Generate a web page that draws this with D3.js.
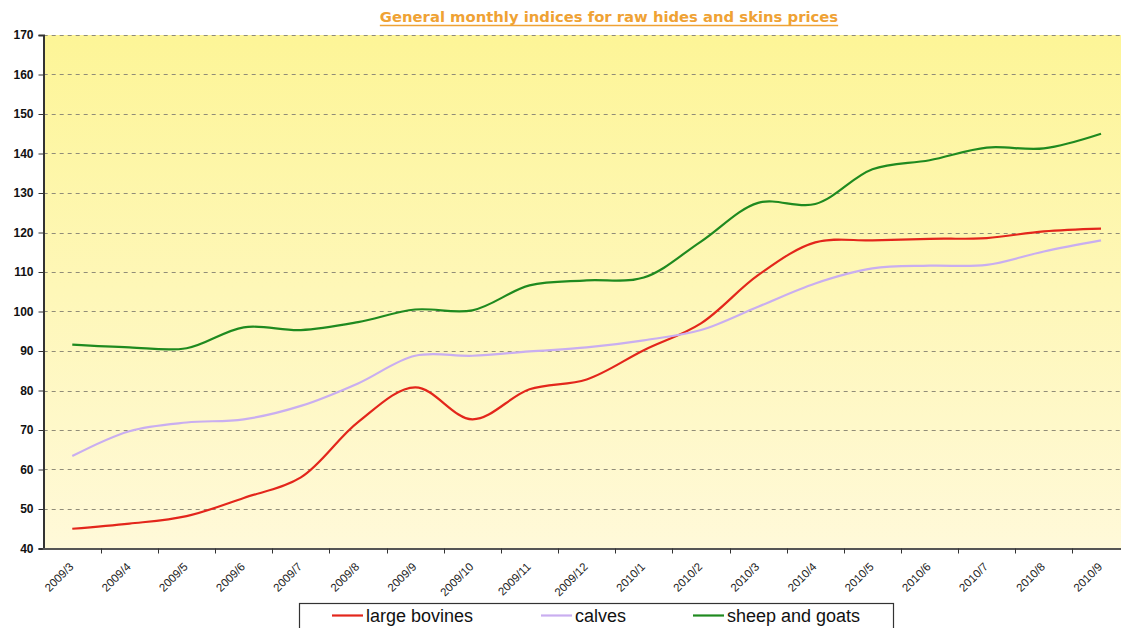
<!DOCTYPE html>
<html>
<head>
<meta charset="utf-8">
<script src="https://cdn.jsdelivr.net/npm/d3@7"></script>
<style>
  html, body { margin: 0; padding: 0; background: #ffffff; }
  svg { display: block; }
</style>
</head>
<body>
<svg id="chart" width="1121" height="628"></svg>
<script>
// ---- data ----
const categories = ["2009/3","2009/4","2009/5","2009/6","2009/7","2009/8","2009/9","2009/10","2009/11","2009/12",
                    "2010/1","2010/2","2010/3","2010/4","2010/5","2010/6","2010/7","2010/8","2010/9"];
const largeBovines = [45.0, 46.3, 48.2, 52.8, 58.0, 72.0, 80.8, 72.7, 80.3, 82.8, 90.2, 97.0, 109.2, 117.5, 118.0, 118.4, 118.6, 120.3, 121.0];
const calves       = [63.4, 69.7, 71.9, 72.7, 76.1, 81.8, 88.8, 88.8, 89.9, 90.9, 92.7, 95.3, 101.2, 107.1, 110.9, 111.6, 111.8, 115.2, 118.0];
const sheepGoats   = [91.6, 90.9, 90.7, 96.0, 95.3, 97.3, 100.5, 100.3, 106.6, 107.9, 108.6, 117.7, 127.5, 127.2, 136.0, 138.3, 141.5, 141.3, 145.0];
const yTicks = [40, 50, 60, 70, 80, 90, 100, 110, 120, 130, 140, 150, 160, 170];
const seriesNames = ["large bovines", "calves", "sheep and goats"];
const seriesColors = ["#e3261b", "#c9aef0", "#1f8a1f"];
const titleText = "General monthly indices for raw hides and skins prices";

// ---- layout ----
const svg = d3.select("#chart");
const plot = { left: 43.7, right: 1129.6, top: 35, bottom: 548.5 };

const x = d3.scaleBand().domain(categories).range([plot.left, plot.right]).padding(0);
const y = d3.scaleLinear().domain([40, 170]).range([plot.bottom, plot.top]);

// background gradient
const defs = svg.append("defs");
const grad = defs.append("linearGradient").attr("id", "bg").attr("x1", 0).attr("y1", 0).attr("x2", 0).attr("y2", 1);
grad.append("stop").attr("offset", "0%").attr("stop-color", "#fdf597");
grad.append("stop").attr("offset", "100%").attr("stop-color", "#fff9d9");

svg.append("rect")
  .attr("x", plot.left).attr("y", plot.top)
  .attr("width", plot.right - plot.left).attr("height", plot.bottom - plot.top)
  .attr("fill", "url(#bg)");

// gridlines
svg.append("g").selectAll("line").data(yTicks).join("line")
  .attr("x1", plot.left).attr("x2", plot.right)
  .attr("y1", d => Math.round(y(d)) + 0.5).attr("y2", d => Math.round(y(d)) + 0.5)
  .attr("stroke", "#908c78").attr("stroke-width", 1)
  .attr("stroke-dasharray", "4,4");

// y axis
const yAxis = d3.axisLeft(y).tickValues(yTicks).tickSize(5).tickPadding(5);
const gy = svg.append("g").attr("transform", `translate(${Math.round(plot.left) - 0.5},0)`).call(yAxis);
gy.select(".domain").attr("stroke", "#333").attr("stroke-width", 2);
gy.selectAll(".tick line").attr("stroke", "#333");
gy.selectAll(".tick text")
  .attr("font-family", "Liberation Sans, Arial, sans-serif")
  .attr("font-weight", "bold").attr("font-size", 12).attr("fill", "#111");

// x axis (domain line + boundary ticks)
svg.append("line")
  .attr("x1", plot.left - 1).attr("x2", plot.right)
  .attr("y1", plot.bottom + 0.5).attr("y2", plot.bottom + 0.5)
  .attr("stroke", "#555").attr("stroke-width", 2);
svg.append("g").selectAll("line").data(categories.slice(1)).join("line")
  .attr("x1", d => Math.round(x(d)) + 0.5).attr("x2", d => Math.round(x(d)) + 0.5)
  .attr("y1", plot.bottom).attr("y2", plot.bottom + 5)
  .attr("stroke", "#333");

// x labels via band axis (no tick lines)
const xAxis = d3.axisBottom(x).tickSize(0).tickPadding(0);
const gx = svg.append("g").attr("transform", `translate(0,${plot.bottom})`).call(xAxis);
gx.select(".domain").remove();
gx.selectAll(".tick text")
  .attr("font-family", "Liberation Sans, Arial, sans-serif")
  .attr("font-size", 11.5).attr("fill", "#222")
  .attr("text-anchor", "end")
  .attr("dy", 0).attr("y", 0)
  .attr("transform", "translate(2,19) rotate(-45)");

// lines
const allSeries = [largeBovines, calves, sheepGoats];
const line = d3.line()
  .x((d, i) => x(categories[i]) + x.bandwidth() / 2)
  .y(d => y(d))
  .curve(d3.curveCatmullRom.alpha(0.5));

svg.append("g").selectAll("path").data(allSeries).join("path")
  .attr("d", d => line(d))
  .attr("fill", "none")
  .attr("stroke", (d, i) => seriesColors[i])
  .attr("stroke-width", 2.2)
  .attr("stroke-linejoin", "round");

// title
const title = svg.append("text")
  .attr("x", 609).attr("y", 22)
  .attr("text-anchor", "middle")
  .attr("font-family", "DejaVu Sans, Verdana, sans-serif")
  .attr("font-weight", "bold").attr("font-size", 14.8)
  .attr("fill", "#efa234")
  .text(titleText);
const tw = title.node().getComputedTextLength();
svg.append("line")
  .attr("x1", 609 - tw / 2).attr("x2", 609 + tw / 2)
  .attr("y1", 25.5).attr("y2", 25.5)
  .attr("stroke", "#efa234").attr("stroke-width", 1.4);

// legend
const legend = svg.append("g");
legend.append("rect")
  .attr("x", 299.5).attr("y", 603.5).attr("width", 594).attr("height", 30)
  .attr("fill", "#ffffff").attr("stroke", "#333").attr("stroke-width", 1.2);
const legX = [332, 541, 693];
const items = legend.selectAll("g.item").data(seriesNames).join("g").attr("class", "item")
  .attr("transform", (d, i) => `translate(${legX[i]},0)`);
items.append("line")
  .attr("x1", 0).attr("x2", 31).attr("y1", 615.5).attr("y2", 615.5)
  .attr("stroke", (d, i) => seriesColors[i]).attr("stroke-width", 2.2);
items.append("text")
  .attr("x", 34).attr("y", 621.5)
  .attr("font-family", "Liberation Sans, Arial, sans-serif")
  .attr("font-size", 18).attr("fill", "#111")
  .text(d => d);
</script>
</body>
</html>
